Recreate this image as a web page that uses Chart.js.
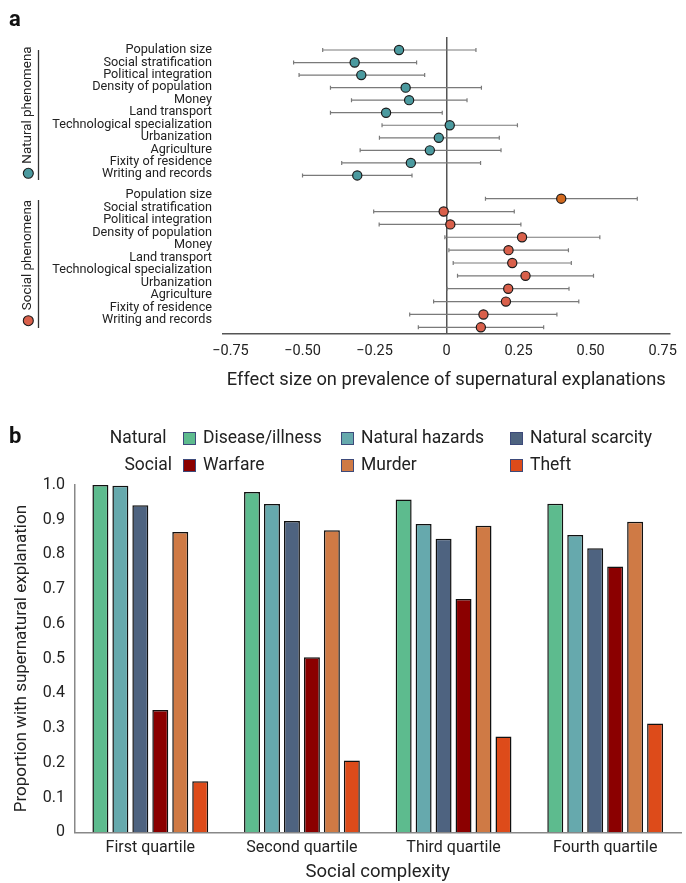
<!DOCTYPE html>
<html><head><meta charset="utf-8">
<script src="https://cdn.jsdelivr.net/npm/chart.js@4.4.1/dist/chart.umd.min.js"></script>
<style>
html,body{margin:0;padding:0;background:#fff;}
#wrap{position:relative;width:686px;height:883px;overflow:hidden;background:#fff;}
#ca{position:absolute;left:0;top:0;}
#cb{position:absolute;left:0;top:400px;}
</style></head><body>
<div id="wrap"><canvas id="ca" width="686" height="400"></canvas><canvas id="cb" width="686" height="483"></canvas></div>
<script>
const FONT = 'Roboto, "Liberation Sans", sans-serif';
const TXT = '#222';

// ---------- Panel a data ----------
const rowLabels = ['Population size','Social stratification','Political integration','Density of population','Money','Land transport','Technological specialization','Urbanization','Agriculture','Fixity of residence','Writing and records'];
const naturalEffect = [-0.165,-0.319,-0.296,-0.142,-0.130,-0.210,0.011,-0.027,-0.058,-0.124,-0.310];
const naturalLow    = [-0.430,-0.531,-0.512,-0.403,-0.330,-0.403,-0.224,-0.233,-0.300,-0.364,-0.500];
const naturalHigh   = [0.102,-0.104,-0.076,0.121,0.071,-0.015,0.246,0.183,0.189,0.118,-0.120];
const socialEffect  = [0.398,-0.010,0.013,0.262,0.215,0.228,0.274,0.214,0.206,0.128,0.119];
const socialLow     = [0.135,-0.253,-0.234,-0.006,0.008,0.023,0.038,0.002,-0.045,-0.128,-0.098];
const socialHigh    = [0.662,0.235,0.258,0.532,0.423,0.433,0.510,0.425,0.459,0.383,0.337];
const effectTicks = [-0.75,-0.5,-0.25,0,0.25,0.5,0.75];
const groupNames = ['Natural phenomena','Social phenomena'];

// ---------- Panel b data ----------
const quartiles = ['First quartile','Second quartile','Third quartile','Fourth quartile'];
const disease  = [1.000,0.980,0.958,0.946];
const hazards  = [0.998,0.945,0.888,0.856];
const scarcity = [0.942,0.896,0.845,0.818];
const warfare  = [0.352,0.504,0.672,0.765];
const murder   = [0.865,0.870,0.883,0.894];
const theft    = [0.147,0.207,0.276,0.313];
const seriesNames = ['Disease/illness','Natural hazards','Natural scarcity','Warfare','Murder','Theft'];
const proportionMax = 1.0;

// ---------- layout helpers (positions, not data) ----------
const natRow = i => i * 0.985;
const socRow = i => 11.675 + i * 1.01;
const natLabelPos = i => i * 0.976;
const socLabelPos = i => 11.385 + i * 0.981;
const labelPositions = rowLabels.map((_, i) => natLabelPos(i)).concat(rowLabels.map((_, i) => socLabelPos(i)));
const allLabels = rowLabels.concat(rowLabels);

const natPts = naturalEffect.map((v, i) => ({x: v, y: natRow(i), lo: naturalLow[i], hi: naturalHigh[i]}));
const socPts = socialEffect.map((v, i) => ({x: v, y: socRow(i), lo: socialLow[i], hi: socialHigh[i]}));

const TEAL = '#4B9A9F', RED = '#D9604B', ORANGE = '#D2691E';

const whiskerPlugin = {
  id: 'whiskers',
  beforeDatasetsDraw(chart) {
    const {ctx, scales: {x, y}} = chart;
    ctx.save();
    ctx.strokeStyle = '#7a7a7a';
    ctx.lineWidth = 1.2;
    chart.data.datasets.forEach(ds => {
      ds.data.forEach(p => {
        const yy = y.getPixelForValue(p.y);
        const x1 = x.getPixelForValue(p.lo), x2 = x.getPixelForValue(p.hi);
        ctx.beginPath();
        ctx.moveTo(x1, yy); ctx.lineTo(x2, yy);
        ctx.moveTo(x1, yy - 2); ctx.lineTo(x1, yy + 2);
        ctx.moveTo(x2, yy - 2); ctx.lineTo(x2, yy + 2);
        ctx.stroke();
      });
    });
    ctx.restore();
  }
};

const decorA = {
  id: 'decorA',
  afterDraw(chart) {
    const {ctx} = chart;
    ctx.save();
    ctx.fillStyle = '#111';
    ctx.font = 'bold 22px ' + FONT;
    ctx.textBaseline = 'alphabetic';
    ctx.textAlign = 'left';
    ctx.fillText('a', 9, 26);
    ctx.strokeStyle = '#333';
    ctx.lineWidth = 1.3;
    ctx.beginPath();
    ctx.moveTo(38.5, 50); ctx.lineTo(38.5, 180);
    ctx.moveTo(38.5, 200); ctx.lineTo(38.5, 328);
    ctx.stroke();
    const drawGroup = (name, cy, circY, col) => {
      ctx.save();
      ctx.translate(27.5, cy);
      ctx.rotate(-Math.PI / 2);
      ctx.fillStyle = TXT;
      ctx.font = '13.4px ' + FONT;
      ctx.textAlign = 'center';
      ctx.textBaseline = 'middle';
      ctx.fillText(name, 0, 0);
      ctx.restore();
      ctx.beginPath();
      ctx.arc(28.3, circY, 5, 0, Math.PI * 2);
      ctx.fillStyle = col; ctx.fill();
      ctx.lineWidth = 1.1; ctx.strokeStyle = '#1a1a1a'; ctx.stroke();
    };
    drawGroup(groupNames[0], 105, 173.3, TEAL);
    drawGroup(groupNames[1], 255, 320.7, RED);
    ctx.restore();
  }
};

new Chart(document.getElementById('ca'), {
  type: 'scatter',
  data: {
    datasets: [
      {label: 'Natural', data: natPts, backgroundColor: TEAL, borderColor: '#1a1a1a', borderWidth: 1.2, pointRadius: 4.6, pointHoverRadius: 4.6},
      {label: 'Social', data: socPts, backgroundColor: socPts.map((p, i) => i === 0 ? ORANGE : RED), borderColor: '#1a1a1a', borderWidth: 1.2, pointRadius: 4.6, pointHoverRadius: 4.6}
    ]
  },
  options: {
    responsive: false, animation: false, devicePixelRatio: 1,
    layout: {padding: {left: 0, right: 14, top: 37, bottom: 0}},
    plugins: {legend: {display: false}, tooltip: {enabled: false}},
    scales: {
      x: {
        type: 'linear', min: -0.776, max: 0.774,
        afterBuildTicks: s => { s.ticks = effectTicks.map(v => ({value: v})); },
        afterFit: s => { s.height = 66; },
        grid: {drawTicks: false, drawOnChartArea: true, color: c => (c.tick && c.tick.value === 0) ? '#555' : 'rgba(0,0,0,0)', lineWidth: 1.5},
        border: {display: true, color: '#555', width: 1.5},
        ticks: {padding: 9, color: TXT, font: {family: FONT, size: 14.5}, autoSkip: false, maxRotation: 0,
          callback: v => v === 0 ? '0' : (v < 0 ? '\u2212' + Math.abs(v).toFixed(2) : v.toFixed(2))},
        title: {display: true, text: 'Effect size on prevalence of supernatural explanations', color: TXT, font: {family: FONT, size: 18.3}, padding: {top: 0, bottom: 9}}
      },
      y: {
        type: 'linear', reverse: true, min: -1.02, max: 22.3,
        afterBuildTicks: s => { s.ticks = labelPositions.map(v => ({value: v})); },
        afterFit: s => { s.width = 223; },
        grid: {display: false, drawTicks: false},
        border: {display: false},
        ticks: {padding: 11, color: TXT, font: {family: FONT, size: 12.7}, autoSkip: false,
          callback: (v, i) => allLabels[i]}
      }
    }
  },
  plugins: [whiskerPlugin, decorA]
});

// ---------- Panel b ----------
const COLORS = ['#5DBB8E', '#66A9AD', '#4E6380', '#8B0000', '#CF7A45', '#DD4B1A'];
const seriesValues = [disease, hazards, scarcity, warfare, murder, theft];

const decorB = {
  id: 'decorB',
  afterDraw(chart) {
    const {ctx} = chart;
    ctx.save();
    ctx.fillStyle = '#111';
    ctx.font = 'bold 22px ' + FONT;
    ctx.textAlign = 'left';
    ctx.textBaseline = 'alphabetic';
    ctx.fillText('b', 9, 43);
    ctx.font = '17.5px ' + FONT;
    ctx.textBaseline = 'middle';
    ctx.fillStyle = TXT;
    ctx.textAlign = 'right';
    ctx.fillText('Natural', 166.5, 38.5);
    ctx.fillText('Social', 172, 65.5);
    const colsX = [183, 341, 510];
    const rowsY = [38.5, 65.5];
    seriesNames.forEach((name, k) => {
      const r = Math.floor(k / 3), c = k % 3;
      const bx = colsX[c], by = rowsY[r] - 6.5;
      ctx.fillStyle = COLORS[k];
      ctx.fillRect(bx, by, 13, 13);
      ctx.strokeStyle = '#3d4a7a';
      ctx.lineWidth = 1;
      ctx.strokeRect(bx + 0.5, by + 0.5, 12, 12);
      ctx.fillStyle = TXT;
      ctx.textAlign = 'left';
      ctx.fillText(name, bx + 20, rowsY[r]);
    });
    ctx.restore();
  }
};

new Chart(document.getElementById('cb'), {
  type: 'bar',
  data: {
    labels: quartiles,
    datasets: seriesNames.map((n, k) => ({
      label: n, data: seriesValues[k], backgroundColor: COLORS[k],
      borderColor: '#111', borderWidth: 1.5, borderSkipped: 'start',
      categoryPercentage: 0.79, barPercentage: 0.8
    }))
  },
  options: {
    responsive: false, animation: false, devicePixelRatio: 1,
    layout: {padding: {left: 0, right: 5, top: 85, bottom: 0}},
    plugins: {legend: {display: false}, tooltip: {enabled: false}},
    scales: {
      x: {
        afterFit: s => { s.height = 50.7; },
        grid: {display: false, drawTicks: false},
        border: {display: true, color: '#888', width: 1.5},
        ticks: {padding: 6, color: TXT, font: {family: FONT, size: 16}, maxRotation: 0},
        title: {display: true, text: 'Social complexity', color: TXT, font: {family: FONT, size: 18.5}, padding: {top: 0, bottom: 0}}
      },
      y: {
        min: 0, max: proportionMax,
        afterFit: s => { s.width = 74.5; },
        grid: {display: false, drawTicks: false},
        border: {display: true, color: '#888', width: 1.5},
        ticks: {stepSize: 0.1, padding: 9.5, color: TXT, font: {family: FONT, size: 16},
          callback: v => Math.abs(v) < 1e-9 ? '0' : v.toFixed(1)},
        title: {display: true, text: 'Proportion with supernatural explanation', color: TXT, font: {family: FONT, size: 17}, padding: {top: 12, bottom: 0}}
      }
    }
  },
  plugins: [decorB]
});
</script>
</body></html>
